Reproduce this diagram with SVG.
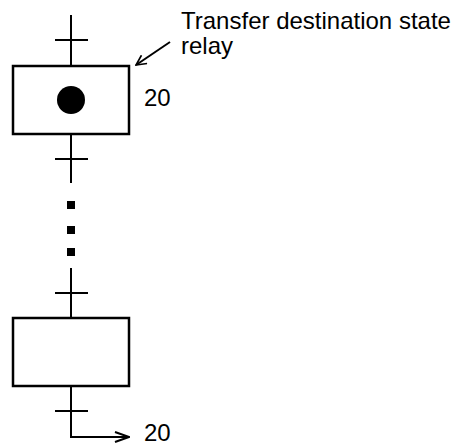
<svg xmlns="http://www.w3.org/2000/svg" width="457" height="443" viewBox="0 0 457 443">
<defs>
<style>
.ln{stroke:#000;stroke-width:2;fill:none}
.box{stroke:#000;stroke-width:2.5;fill:#fff}
.t{font-family:"Liberation Sans",Arial,sans-serif;font-size:24px;fill:#000}
</style>
<marker id="open" viewBox="0 0 12 12" refX="11" refY="6" markerWidth="12" markerHeight="12" markerUnits="userSpaceOnUse" orient="auto">
<path d="M1,1 L11,6 L1,11" fill="none" stroke="#000" stroke-width="1.6"/>
</marker>
<marker id="open2" viewBox="0 0 16 12" refX="15" refY="6" markerWidth="16" markerHeight="12" markerUnits="userSpaceOnUse" orient="auto">
<path d="M1,1 L15,6 L1,11" fill="none" stroke="#000" stroke-width="2"/>
</marker>
</defs>
<rect width="457" height="443" fill="#fff"/>
<g id="connectors">
<line class="ln" x1="71" y1="15" x2="71" y2="66"/>
<line class="ln" x1="55" y1="40" x2="88" y2="40"/>
<line class="ln" x1="71" y1="134" x2="71" y2="183"/>
<line class="ln" x1="55" y1="159" x2="88" y2="159"/>
<line class="ln" x1="71" y1="268" x2="71" y2="318"/>
<line class="ln" x1="55" y1="293" x2="88" y2="293"/>
<line class="ln" x1="71" y1="386" x2="71" y2="412"/>
<line class="ln" x1="55" y1="411" x2="88" y2="411"/>
<polyline class="ln" points="71,386 71,437 129,437" marker-end="url(#open2)"/>
<line class="ln" x1="170" y1="42" x2="136" y2="65" stroke-width="1.6" marker-end="url(#open)"/>
</g>
<g id="dots">
<rect x="67" y="201" width="8" height="8"/>
<rect x="67" y="226" width="8" height="8"/>
<rect x="67" y="248" width="8" height="8"/>
</g>
<g id="step1">
<rect class="box" x="13" y="66" width="116" height="68"/>
<circle cx="71" cy="100" r="14" fill="#000"/>
<text class="t" x="144" y="106">20</text>
</g>
<g id="step2">
<rect class="box" x="13" y="318" width="116" height="68"/>
</g>
<g id="label">
<text class="t" x="181" y="29">Transfer destination state</text>
<text class="t" x="181" y="54">relay</text>
</g>
<text id="jump" class="t" x="144" y="441">20</text>
</svg>
